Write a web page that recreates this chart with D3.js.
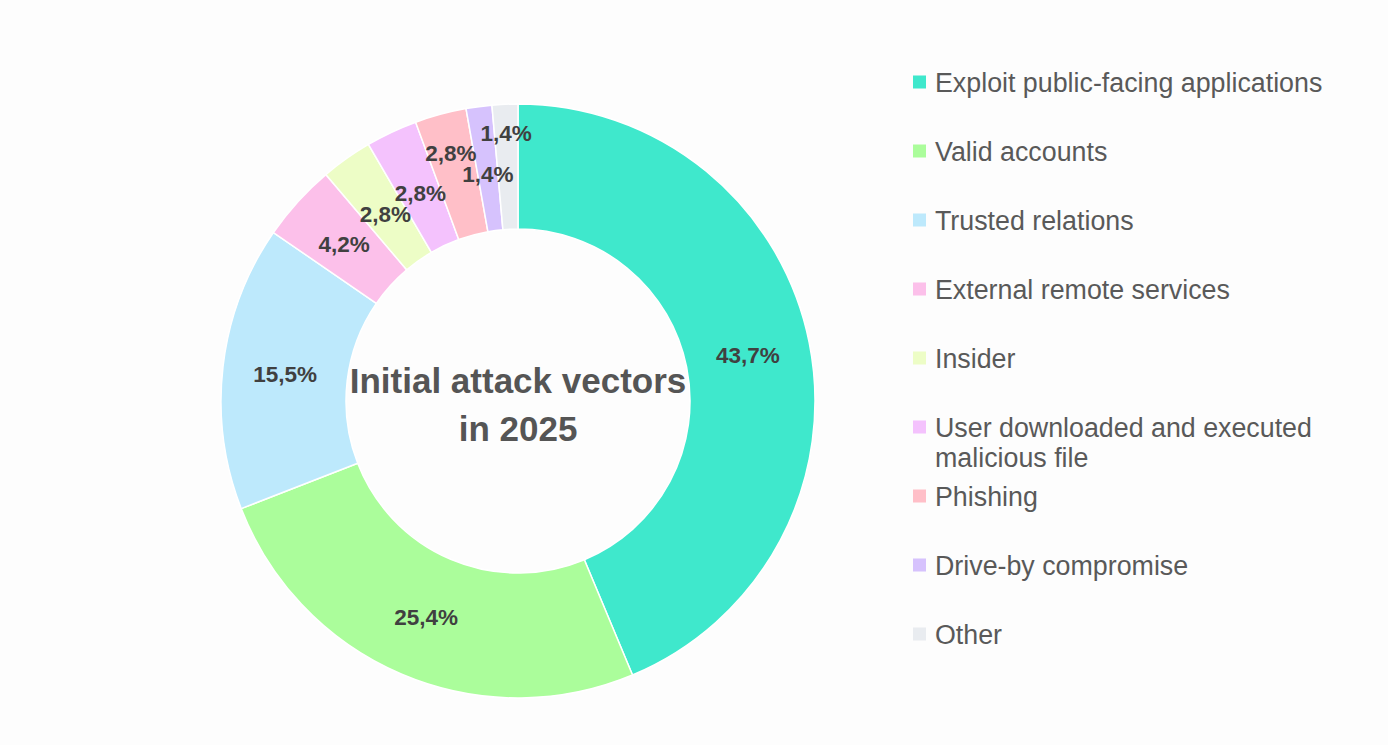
<!DOCTYPE html>
<html>
<head>
<meta charset="utf-8">
<script src="https://cdn.jsdelivr.net/npm/d3@7/dist/d3.min.js"></script>
<style>
  html, body { margin: 0; padding: 0; background: #fdfdfd; }
  svg { display: block; }
</style>
</head>
<body>
<svg id="chart" width="1388" height="745"></svg>
<script>
const categories = [
  "Exploit public-facing applications",
  "Valid accounts",
  "Trusted relations",
  "External remote services",
  "Insider",
  "User downloaded and executed malicious file",
  "Phishing",
  "Drive-by compromise",
  "Other"
];
const values = [43.7, 25.4, 15.5, 4.2, 2.8, 2.8, 2.8, 1.4, 1.4];
const colors = ["#3fe8cc", "#abfd9b", "#bde9fc", "#fcc0ea", "#edfdc6", "#f4c2fd", "#ffbfc8", "#d6c2fd", "#e9ecf0"];
const legendLines = [
  ["Exploit public-facing applications"],
  ["Valid accounts"],
  ["Trusted relations"],
  ["External remote services"],
  ["Insider"],
  ["User downloaded and executed", "malicious file"],
  ["Phishing"],
  ["Drive-by compromise"],
  ["Other"]
];
const titleLines = ["Initial attack vectors", "in 2025"];

const svg = d3.select("#chart");
const cx = 518, cy = 401, outerR = 297, innerR = 172;
const g = svg.append("g").attr("transform", `translate(${cx},${cy})`);

const data = categories.map((c, i) => ({ name: c, value: values[i], color: colors[i] }));
const pie = d3.pie().value(d => d.value).sort(null).startAngle(0).endAngle(2 * Math.PI);
const arcs = pie(data);
const arc = d3.arc().innerRadius(innerR).outerRadius(outerR);

g.selectAll("path.slice").data(arcs).enter().append("path")
  .attr("class", "slice")
  .attr("d", arc)
  .attr("fill", d => d.data.color)
  .attr("stroke", "#ffffff")
  .attr("stroke-width", 1.5);

// label radial placement: centroid, with some crowded slices pushed outward
const midR = (innerR + outerR) / 2;
const labelShift = { "Phishing": 23, "Other": 34, "Insider": -5, "User downloaded and executed malicious file": -5, "Drive-by compromise": -5 };
const fmt = v => v.toFixed(1).replace(".", ",") + "%";

g.selectAll("text.lbl").data(arcs).enter().append("text")
  .attr("class", "lbl")
  .each(function(d) {
    const r = midR + (labelShift[d.data.name] || 0);
    const c = d3.arc().innerRadius(r).outerRadius(r).centroid(d);
    d3.select(this).attr("x", c[0]).attr("y", c[1]);
  })
  .attr("text-anchor", "middle")
  .attr("dy", "0.36em")
  .attr("font-family", "Liberation Sans, Arial, sans-serif")
  .attr("font-weight", "bold")
  .attr("font-size", 22.5)
  .attr("fill", "#404040")
  .text(d => fmt(d.data.value));

// center title
const title = g.append("text")
  .attr("text-anchor", "middle")
  .attr("font-family", "Liberation Sans, Arial, sans-serif")
  .attr("font-weight", "bold")
  .attr("font-size", 35)
  .attr("fill", "#555555");
titleLines.forEach((t, i) => {
  title.append("tspan").attr("x", 0).attr("y", -8 + i * 48).text(t);
});

// legend
const legendX = 913, legendY0 = 82, legendStep = 69, lineH = 30;
const lg = svg.append("g");
legendLines.forEach((lines, i) => {
  const y = legendY0 + i * legendStep;
  lg.append("rect")
    .attr("x", legendX).attr("y", y - 6.5)
    .attr("width", 13).attr("height", 13)
    .attr("fill", colors[i]);
  const t = lg.append("text")
    .attr("font-family", "Liberation Sans, Arial, sans-serif")
    .attr("font-size", 26.8)
    .attr("fill", "#595959");
  lines.forEach((l, j) => {
    t.append("tspan").attr("x", legendX + 22).attr("y", y + 9.5 + j * lineH).text(l);
  });
});
</script>
</body>
</html>
